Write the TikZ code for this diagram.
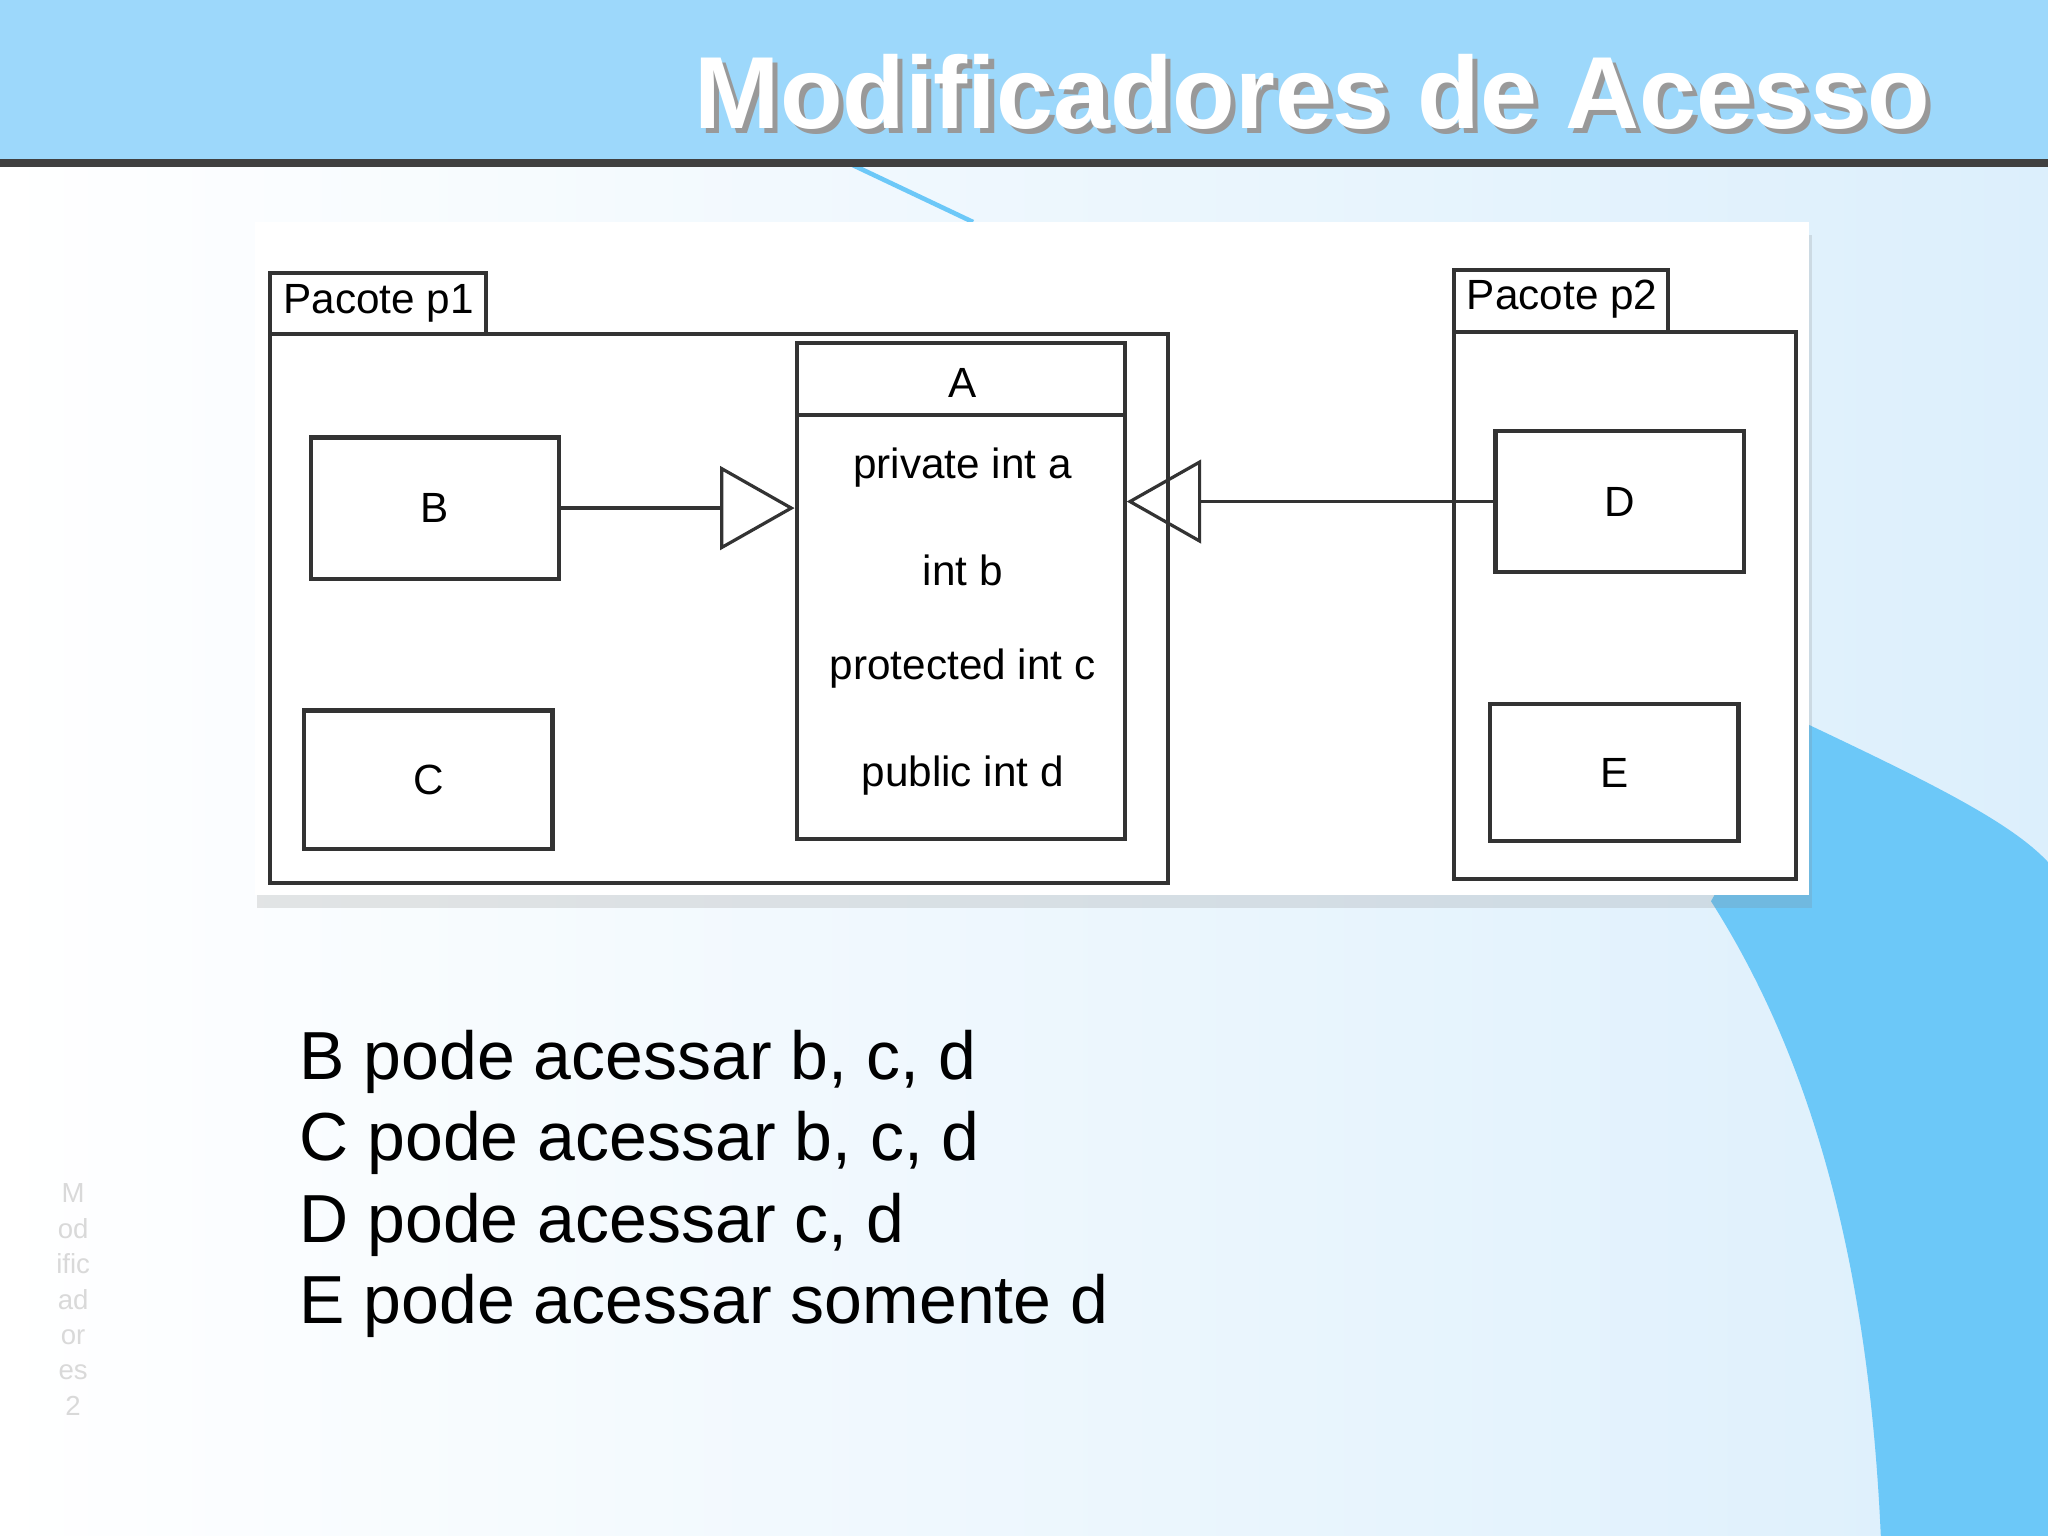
\documentclass[tikz,border=0pt]{standalone}
\usepackage{fontspec}
\setmainfont{Liberation Sans}
\usetikzlibrary{arrows.meta,shadows}
\definecolor{band}{HTML}{9DD8FB}
\definecolor{deep}{HTML}{6CC8F8}
\definecolor{pale}{HTML}{DCEFFC}
\begin{document}
\begin{tikzpicture}[x=0.01cm,y=-0.01cm,
  box/.style={draw=black!80,line width=0.9pt,inner sep=0pt},
  lbl/.style={font=\fontsize{9.2pt}{11pt}\selectfont},
  item/.style={anchor=west,font=\fontsize{14.8pt}{17pt}\selectfont},
  gen/.style={draw=black!80,line width=0.7pt,-{Triangle[open,length=0.57cm,width=0.64cm]}}]
\useasboundingbox (0,0) rectangle (1568,1176);
\shade[left color=white,right color=pale] (0,0) rectangle (1568,1176);
\fill[deep] (1385,555) .. controls (1480,600) and (1540,630) .. (1568,660) -- (1568,1176) -- (1440,1176) .. controls (1430,950) and (1380,800) .. (1310,690) -- cycle;
\draw[deep,line width=1pt] (650,125) -- (745,170);
\fill[band] (0,0) rectangle (1568,122);
\fill[black!75] (0,122) rectangle (1568,128);
\node[anchor=east,text=black!40,font=\bfseries\fontsize{22.3pt}{26pt}\selectfont] at (1494,74) {Modificadores de Acesso};
\node[anchor=east,text=white,font=\bfseries\fontsize{22.3pt}{26pt}\selectfont] (title) at (1490,70) {Modificadores de Acesso};
\fill[white,drop shadow={shadow xshift=0.02cm,shadow yshift=-0.1cm,opacity=0.2}] (195,170) rectangle (1385,685);
% packages
\draw[box] (207,256) rectangle (894,676);
\draw[box] (207,209) rectangle (372,256);
\node[lbl] (p1) at (290,232) {Pacote p1};
\draw[box] (1113,254) rectangle (1375,673);
\draw[box] (1113,207) rectangle (1277,254);
\node[lbl] (p2) at (1196,229) {Pacote p2};
% A
\node[box,minimum width=2.51cm,minimum height=3.79cm] (A) at (735.5,452.5) {};
\draw[black!80,line width=0.9pt] (610,318) -- (861,318);
\node[lbl] at (737,293) {A};
\node[lbl] at (737,358) {private int a};
\node[lbl] at (737,437) {int b};
\node[lbl] at (737,512) {protected int c};
\node[lbl] at (737,594) {public int d};
\node[box,lbl,minimum width=1.9cm,minimum height=1.08cm] (B) at (333,389) {B};
\node[box,lbl,minimum width=1.9cm,minimum height=1.06cm] (C) at (328,597) {C};
\node[box,lbl,minimum width=1.9cm,minimum height=1.08cm] (D) at (1240,384) {D};
\node[box,lbl,minimum width=1.9cm,minimum height=1.05cm] (E) at (1236,591.5) {E};
\draw[gen] (B.east) -- (B.east -| A.west);
\draw[gen] (D.west) -- (D.west -| A.east);
% list
\node[item] (l1) at (217,813) {B pode acessar b, c, d};
\node[item] (l2) at (217,875) {C pode acessar b, c, d};
\node[item] (l3) at (217,938) {D pode acessar c, d};
\node[item] (l4) at (217,1000) {E pode acessar somente d};
\node[text=black!15,align=center,font=\fontsize{6pt}{7.7pt}\selectfont] (side) at (56,995) {M\\od\\ific\\ad\\or\\es\\2};
\end{tikzpicture}
\end{document}
